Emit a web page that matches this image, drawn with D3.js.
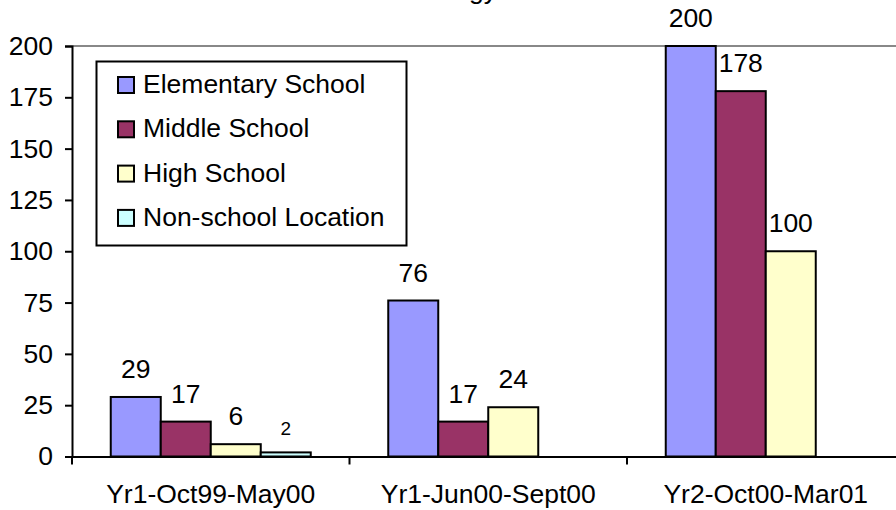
<!DOCTYPE html>
<html>
<head>
<meta charset="utf-8">
<script src="https://cdn.jsdelivr.net/npm/d3@7"></script>
<style>
    body { margin: 0; background: #fff; }
    svg { display: block; font-family: "Liberation Sans", Arial, sans-serif; }
</style>
</head>
<body>
<div id="chart"></div>
<script>
const categories = ['Yr1-Oct99-May00', 'Yr1-Jun00-Sept00', 'Yr2-Oct00-Mar01'];
const seriesNames = ['Elementary School', 'Middle School', 'High School', 'Non-school Location'];
const seriesColors = ['#9999ff', '#993366', '#ffffcc', '#ccffff'];
const elementary = [29, 76, 200];
const middle = [17, 17, 178];
const high = [6, 24, 100];
const nonSchool = [2, null, null];
const yTicks = [0, 25, 50, 75, 100, 125, 150, 175, 200];

document.addEventListener('DOMContentLoaded', () => {
    const width = 896, height = 510;
    const left = 72, right = 904.5, top = 46, bottom = 456.5;
    const fontSize = 26.5;
    const values = [elementary, middle, high, nonSchool];

    const svg = d3.select('#chart').append('svg')
        .attr('width', width)
        .attr('height', height);

    // title, mostly cut off at the top of the picture
    svg.append('text')
        .attr('x', 497)
        .attr('y', -1)
        .attr('text-anchor', 'end')
        .attr('font-size', fontSize)
        .text('Technology');

    const x0 = d3.scaleBand().domain(categories).range([left, right]).padding(0);
    const x1 = d3.scaleBand().domain(seriesNames).range([0, x0.bandwidth()])
        .paddingInner(0).paddingOuter(0.775);
    const y = d3.scaleLinear().domain([0, 200]).range([bottom, top]);

    // plot area top border
    svg.append('line')
        .attr('x1', left).attr('x2', right)
        .attr('y1', y(200)).attr('y2', y(200))
        .attr('stroke', '#888').attr('stroke-width', 2);

    const rows = [];
    seriesNames.forEach((s, i) => {
        categories.forEach((c, j) => {
            if (values[i][j] != null) rows.push({ series: s, cat: c, value: values[i][j], color: seriesColors[i] });
        });
    });

    svg.append('g').selectAll('rect')
        .data(rows)
        .enter().append('rect')
        .attr('x', d => x0(d.cat) + x1(d.series))
        .attr('y', d => y(d.value))
        .attr('width', x1.bandwidth())
        .attr('height', d => y(0) - y(d.value))
        .attr('fill', d => d.color)
        .attr('stroke', '#000')
        .attr('stroke-width', 2);

    svg.append('g').selectAll('text')
        .data(rows)
        .enter().append('text')
        .attr('x', d => x0(d.cat) + x1(d.series) + x1.bandwidth() / 2)
        .attr('y', d => y(d.value) - (d.value < 5 ? 17 : 19))
        .attr('text-anchor', 'middle')
        .attr('font-size', d => d.value < 5 ? 19 : fontSize)
        .text(d => d.value);

    // y axis
    const yAxis = svg.append('g')
        .attr('transform', `translate(${left},0)`)
        .call(d3.axisLeft(y).tickValues(yTicks).tickSize(7).tickPadding(12));
    yAxis.select('.domain').attr('stroke-width', 2);
    yAxis.selectAll('.tick line').attr('stroke-width', 2);
    yAxis.selectAll('.tick text').attr('font-size', fontSize).attr('font-family', null).attr('fill', '#000');

    // x axis
    const xAxis = svg.append('g')
        .attr('transform', `translate(0,${bottom})`)
        .call(d3.axisBottom(x0).tickSize(0).tickPadding(28));
    xAxis.select('.domain').attr('stroke-width', 2);
    xAxis.selectAll('.tick text').attr('font-size', fontSize).attr('font-family', null).attr('fill', '#000');

    svg.append('g').selectAll('line')
        .data(categories.concat(['end']))
        .enter().append('line')
        .attr('x1', (d, i) => left + i * x0.step())
        .attr('x2', (d, i) => left + i * x0.step())
        .attr('y1', bottom).attr('y2', bottom + 8)
        .attr('stroke', '#000').attr('stroke-width', 2);

    // legend
    const legend = svg.append('g');
    legend.append('rect')
        .attr('x', 96.5).attr('y', 61.5)
        .attr('width', 310).attr('height', 184)
        .attr('fill', '#fff')
        .attr('stroke', '#000').attr('stroke-width', 2);

    const item = legend.selectAll('g.item')
        .data(seriesNames)
        .enter().append('g')
        .attr('class', 'item')
        .attr('transform', (d, i) => `translate(118,${77 + i * 44.3})`);
    item.append('rect')
        .attr('width', 16).attr('height', 16)
        .attr('fill', (d, i) => seriesColors[i])
        .attr('stroke', '#000').attr('stroke-width', 2);
    item.append('text')
        .attr('x', 25).attr('y', 16)
        .attr('font-size', fontSize)
        .text(d => d);
});
</script>
</body>
</html>
